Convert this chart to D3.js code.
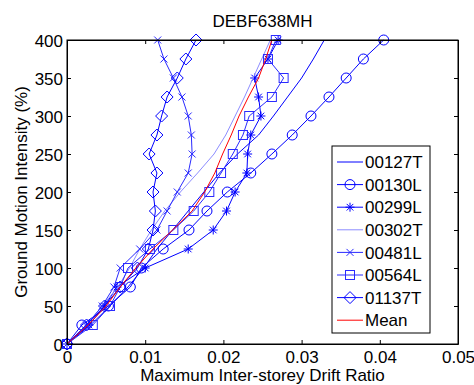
<!DOCTYPE html>
<html>
<head>
<meta charset="utf-8">
<script src="https://cdn.jsdelivr.net/npm/d3@7"></script>
<style>
  body { margin: 0; background: #fff; }
  svg { font-family: "Liberation Sans", Arial, sans-serif; }
</style>
</head>
<body>
<svg id="chart"></svg>
<script>
// intensity levels (%)
const levels = [0, 25, 50, 75, 100, 125, 150, 175, 200, 225, 250, 275, 300, 325, 350, 375, 400];

// drift ratio per record
const s00127T = [0, 0.0030, 0.0055, 0.0078, 0.0098, 0.0115, 0.0135, 0.0155, 0.0175, 0.0195, 0.0218, 0.0245, 0.0264, 0.0282, 0.0300, 0.0315, 0.0329];
const s00130L = [0, 0.0019, 0.0053, 0.0081, 0.0095, 0.0123, 0.0156, 0.0179, 0.0205, 0.0235, 0.0262, 0.0288, 0.0312, 0.0335, 0.0357, 0.0379, 0.0405];
const s00299L = [0, 0.0028, 0.0048, 0.0064, 0.0100, 0.0155, 0.0187, 0.0204, 0.0215, 0.0230, 0.0231, 0.0235, 0.0248, 0.0245, 0.0240, 0.0257, 0.0270];
const s00302T = [0, 0.0025, 0.0045, 0.0065, 0.0080, 0.0093, 0.0108, 0.0125, 0.0145, 0.0167, 0.0188, 0.0203, 0.0215, 0.0227, 0.0238, 0.0249, 0.0260];
const s00481L = [0, 0.0025, 0.0045, 0.0060, 0.0068, 0.0093, 0.0115, 0.0128, 0.0141, 0.0155, 0.0160, 0.0159, 0.0155, 0.0147, 0.0136, 0.0124, 0.0116];
const s00564L = [0, 0.0033, 0.0055, 0.0068, 0.0078, 0.0106, 0.0136, 0.0162, 0.0182, 0.0197, 0.0212, 0.0225, 0.0233, 0.0262, 0.0277, 0.0257, 0.0267];
const s01137T = [0, 0.0025, 0.0048, 0.0068, 0.0090, 0.0104, 0.0110, 0.0113, 0.0110, 0.0115, 0.0105, 0.0115, 0.0121, 0.0128, 0.0141, 0.0152, 0.0165];
const sMean   = [0, 0.0027, 0.0050, 0.0068, 0.0088, 0.0110, 0.0135, 0.0160, 0.0176, 0.0189, 0.0199, 0.0210, 0.0220, 0.0232, 0.0245, 0.0254, 0.0262];

const xTicks = [0, 0.01, 0.02, 0.03, 0.04, 0.05];
const yTicks = [0, 50, 100, 150, 200, 250, 300, 350, 400];

const series = [
  { name: "00127T", values: s00127T, color: "#0000ff", marker: "none" },
  { name: "00130L", values: s00130L, color: "#0000ff", marker: "circle" },
  { name: "00299L", values: s00299L, color: "#0000ff", marker: "star" },
  { name: "00302T", values: s00302T, color: "#8c8cff", marker: "none" },
  { name: "00481L", values: s00481L, color: "#2a2aff", marker: "x" },
  { name: "00564L", values: s00564L, color: "#2a2aff", marker: "square" },
  { name: "01137T", values: s01137T, color: "#0000ff", marker: "diamond" },
  { name: "Mean", values: sMean, color: "#ff0000", marker: "none" },
];

const width = 474, height = 385;
const margin = { top: 40, right: 16, bottom: 41, left: 67 };
const fontSize = "17px";

const svg = d3.select("#chart").attr("width", width).attr("height", height);

const x = d3.scaleLinear().domain([0, 0.05]).range([margin.left, width - margin.right]);
const y = d3.scaleLinear().domain([0, 400]).range([height - margin.bottom, margin.top]);

// draw a marker at (cx, cy)
function drawMarker(g, type, cx, cy, color) {
  if (type === "circle") {
    g.append("circle").attr("cx", cx).attr("cy", cy).attr("r", 5)
      .attr("fill", "none").attr("stroke", color);
  } else if (type === "square") {
    g.append("rect").attr("x", cx - 4.5).attr("y", cy - 4.5).attr("width", 9).attr("height", 9)
      .attr("fill", "none").attr("stroke", color);
  } else if (type === "diamond") {
    g.append("path").attr("d", `M${cx},${cy - 6}L${cx + 6},${cy}L${cx},${cy + 6}L${cx - 6},${cy}Z`)
      .attr("fill", "none").attr("stroke", color);
  } else if (type === "x") {
    const r = 3.5;
    g.append("path").attr("d", `M${cx - r},${cy - r}L${cx + r},${cy + r}M${cx - r},${cy + r}L${cx + r},${cy - r}`)
      .attr("stroke", color);
  } else if (type === "star") {
    const r = 4.5, d = 3.3;
    g.append("path").attr("d",
      `M${cx - r},${cy}L${cx + r},${cy}M${cx},${cy - r}L${cx},${cy + r}` +
      `M${cx - d},${cy - d}L${cx + d},${cy + d}M${cx - d},${cy + d}L${cx + d},${cy - d}`)
      .attr("stroke", color);
  }
}

const line = d3.line()
  .x((d) => x(d[0]))
  .y((d) => y(d[1]));

const plot = svg.append("g");

series.forEach((s) => {
  const pts = s.values.map((v, i) => [v, levels[i]]);
  plot.append("path")
    .datum(pts)
    .attr("d", line)
    .attr("fill", "none")
    .attr("stroke", s.color)
    .attr("stroke-width", 1);
  if (s.marker !== "none") {
    pts.forEach((p) => drawMarker(plot, s.marker, x(p[0]), y(p[1]), s.color));
  }
});

// axes (ticks inside, MATLAB style)
const xAxis = svg.append("g")
  .attr("transform", `translate(0,${y(0)})`)
  .call(d3.axisBottom(x).tickValues(xTicks).tickFormat((d) => d === 0 ? "0" : d3.format(".2f")(d)).tickSizeInner(-4).tickSizeOuter(0).tickPadding(7));
const xTop = svg.append("g")
  .attr("transform", `translate(0,${y(400)})`)
  .call(d3.axisTop(x).tickValues(xTicks).tickFormat("").tickSizeInner(-4).tickSizeOuter(0));
const yAxis = svg.append("g")
  .attr("transform", `translate(${x(0)},0)`)
  .call(d3.axisLeft(y).tickValues(yTicks).tickSizeInner(-4).tickSizeOuter(0).tickPadding(4));
const yRight = svg.append("g")
  .attr("transform", `translate(${x(0.05)},0)`)
  .call(d3.axisRight(y).tickValues(yTicks).tickFormat("").tickSizeInner(-4).tickSizeOuter(0));

[xAxis, xTop, yAxis, yRight].forEach((a) => {
  a.selectAll("path").attr("stroke", "#000");
  a.selectAll("line").attr("stroke", "#000");
  a.selectAll("text").attr("fill", "#000").style("font-size", fontSize)
    .style("font-family", "'Liberation Sans', Arial, sans-serif");
});
yAxis.selectAll("text").attr("dy", "0.36em");

// frame
svg.append("rect")
  .attr("x", x(0)).attr("y", y(400))
  .attr("width", x(0.05) - x(0)).attr("height", y(0) - y(400))
  .attr("fill", "none").attr("stroke", "#000");

// title and labels
svg.append("text")
  .attr("x", (x(0) + x(0.05)) / 2).attr("y", 27)
  .attr("text-anchor", "middle").style("font-size", fontSize)
  .text("DEBF638MH");

svg.append("text")
  .attr("x", (x(0) + x(0.05)) / 2).attr("y", 381)
  .attr("text-anchor", "middle").style("font-size", fontSize)
  .text("Maximum Inter-storey Drift Ratio");

svg.append("text")
  .attr("transform", `translate(27,${(y(0) + y(400)) / 2}) rotate(-90)`)
  .attr("text-anchor", "middle").style("font-size", fontSize)
  .text("Ground Motion Intensity (%)");

// legend
const legend = svg.append("g");
const lgX = 332, lgY = 146, lgW = 98, lgH = 187, rowH = 22.6;
legend.append("rect")
  .attr("x", lgX).attr("y", lgY).attr("width", lgW).attr("height", lgH)
  .attr("fill", "#fff").attr("stroke", "#000");

series.forEach((s, i) => {
  const cy = lgY + 16 + i * rowH;
  legend.append("line")
    .attr("x1", lgX + 5).attr("x2", lgX + 31)
    .attr("y1", cy).attr("y2", cy)
    .attr("stroke", s.color);
  if (s.marker !== "none") drawMarker(legend, s.marker, lgX + 18, cy, s.color);
  legend.append("text")
    .attr("x", lgX + 33).attr("y", cy).attr("dy", "0.36em")
    .style("font-size", fontSize)
    .text(s.name);
});
</script>
</body>
</html>
